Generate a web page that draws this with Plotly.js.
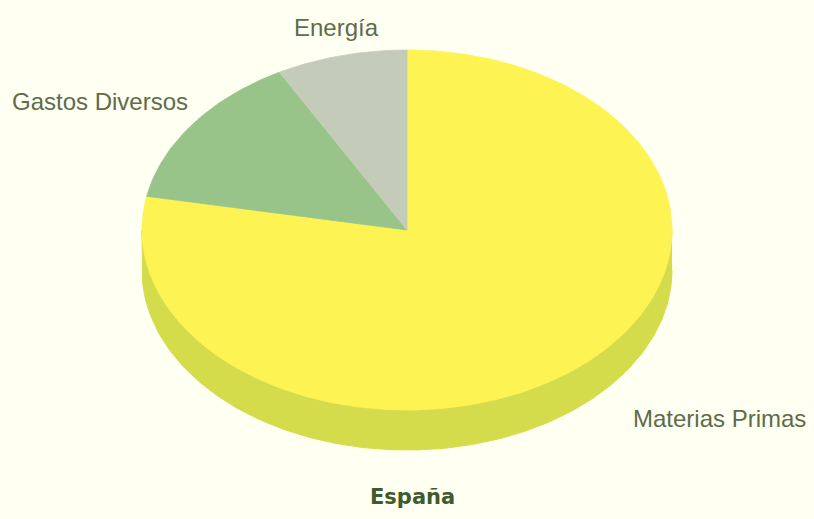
<!DOCTYPE html>
<html>
<head>
<meta charset="utf-8">
<script src="https://cdn.plot.ly/plotly-3.0.1.min.js"></script>
<style>
  html, body { margin: 0; padding: 0; background: #fffff2; }
  #chart { width: 814px; height: 519px; }
</style>
</head>
<body>
<div id="chart"></div>
<script>
// ---- data ----
const categories = ['Materias Primas', 'Gastos Diversos', 'Energía'];
const values = [78, 14, 8];
const topColors = ['#fdf453', '#98c489', '#c4cbb9'];
const sideColors = ['#d4dc4b', '#7fa872', '#a9b19d'];
const chartTitle = 'España';

// ---- geometry of the tilted pie (pixel space of the axes) ----
const CX = 407, CY = 230, RX = 265, RY = 180, DEPTH = 40;

function pt(tDeg, dy) {
  const r = tDeg * Math.PI / 180;
  return [CX + RX * Math.sin(r), CY - RY * Math.cos(r) + dy];
}
function arc(a0, a1, dy, xs, ys) {
  const n = Math.max(2, Math.ceil(Math.abs(a1 - a0)));
  for (let i = 0; i <= n; i++) {
    const p = pt(a0 + (a1 - a0) * i / n, dy);
    xs.push(p[0]); ys.push(p[1]);
  }
}

const total = values.reduce((a, b) => a + b, 0);
const sideTraces = [], topTraces = [];
let start = 0;
values.forEach((v, i) => {
  const a0 = start, a1 = start + v / total * 360;
  start = a1;
  // visible side (front half: 90..270 degrees clockwise from top)
  const s = Math.max(a0, 90), e = Math.min(a1, 270);
  if (s < e) {
    const xs = [], ys = [];
    arc(s, e, 0, xs, ys);
    arc(e, s, DEPTH, xs, ys);
    sideTraces.push({
      x: xs, y: ys, type: 'scatter', mode: 'lines', fill: 'toself',
      fillcolor: sideColors[i], line: { color: sideColors[i], width: 1 },
      hoverinfo: 'skip', showlegend: false
    });
  }
  // top face
  const xs = [CX], ys = [CY];
  arc(a0, a1, 0, xs, ys);
  xs.push(CX); ys.push(CY);
  topTraces.push({
    x: xs, y: ys, type: 'scatter', mode: 'lines', fill: 'toself',
    fillcolor: topColors[i], line: { color: topColors[i], width: 0.8 },
    name: categories[i], text: categories[i] + ': ' + v + '%',
    hoverinfo: 'text', showlegend: false
  });
});

const labelFont = { family: 'Liberation Sans, Arial, sans-serif', size: 24, color: '#5d6c4b' };
const layout = {
  width: 814, height: 519,
  margin: { l: 0, r: 0, t: 0, b: 0 },
  paper_bgcolor: '#fffff2', plot_bgcolor: '#fffff2',
  xaxis: { range: [0, 814], visible: false, fixedrange: true },
  yaxis: { range: [519, 0], visible: false, fixedrange: true },
  showlegend: false,
  annotations: [
    { text: categories[0], x: 808, y: 418, xref: 'x', yref: 'y', xanchor: 'right', yanchor: 'middle', showarrow: false, font: labelFont },
    { text: categories[1], x: 10, y: 101, xref: 'x', yref: 'y', xanchor: 'left', yanchor: 'middle', showarrow: false, font: labelFont },
    { text: categories[2], x: 336, y: 27, xref: 'x', yref: 'y', xanchor: 'center', yanchor: 'middle', showarrow: false, font: labelFont },
    { text: '<b>' + chartTitle + '</b>', x: 412, y: 497, xref: 'x', yref: 'y', xanchor: 'center', yanchor: 'middle', showarrow: false,
      font: { family: 'DejaVu Sans, sans-serif', size: 21, color: '#3f5a2c' } }
  ]
};

Plotly.newPlot('chart', sideTraces.concat(topTraces), layout, { displayModeBar: false, staticPlot: true });
</script>
</body>
</html>
